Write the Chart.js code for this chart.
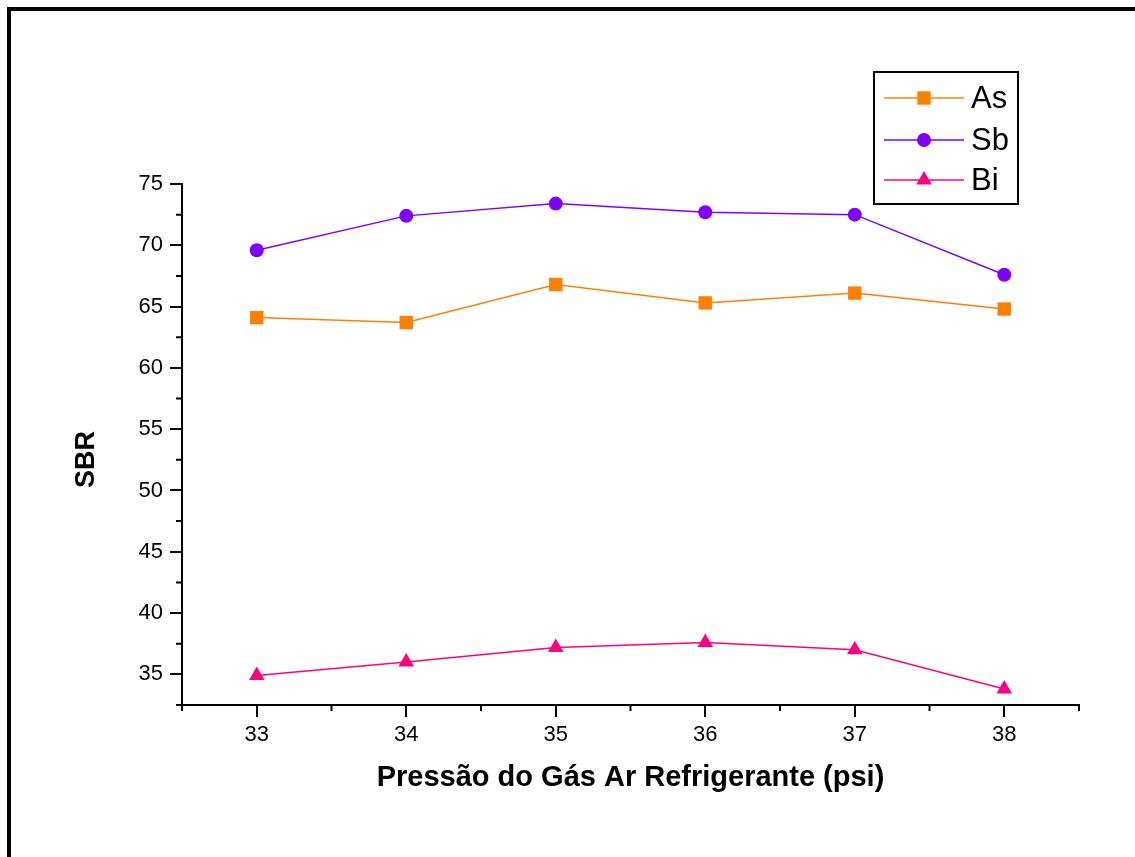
<!DOCTYPE html>
<html>
<head>
<meta charset="utf-8">
<script src="https://cdn.jsdelivr.net/npm/chart.js@4/dist/chart.umd.min.js"></script>
<style>
  html, body { margin: 0; padding: 0; background: #fff; overflow: hidden; }
  canvas { display: block; }
</style>
</head>
<body>
<canvas id="c" width="1135" height="857"></canvas>
<script>
// ---- data ----
const pressures = [33, 34, 35, 36, 37, 38];
const asValues = [64.1, 63.7, 66.8, 65.3, 66.1, 64.8];
const sbValues = [69.6, 72.4, 73.4, 72.7, 72.5, 67.6];
const biValues = [34.9, 36.0, 37.2, 37.6, 37.0, 33.8];
const seriesNames = ['As', 'Sb', 'Bi'];
const xTickValues = [33, 34, 35, 36, 37, 38];
const xMinorTicks = [32.5, 33.5, 34.5, 35.5, 36.5, 37.5, 38.5];
const yTickValues = [35, 40, 45, 50, 55, 60, 65, 70, 75];
const yMinorTicks = [32.5, 37.5, 42.5, 47.5, 52.5, 57.5, 62.5, 67.5, 72.5];
const xTitle = 'Pressão do Gás Ar Refrigerante (psi)';
const yTitle = 'SBR';

const FONT = '"Liberation Sans", Arial, sans-serif';
const colors = ['#FF8000', '#8000FF', '#FF0080'];
const styles = ['rect', 'circle', 'triangle'];
const radii = [9.5, 7, 9];

function toPoints(vals) { return pressures.map((p, i) => ({ x: p, y: vals[i] })); }
const allValues = [asValues, sbValues, biValues];

const datasets = seriesNames.map((name, i) => ({
  label: name,
  data: toPoints(allValues[i]),
  borderColor: colors[i],
  backgroundColor: colors[i],
  borderWidth: 1.5,
  pointStyle: styles[i],
  pointRadius: radii[i],
  pointBorderWidth: 0,
  pointBackgroundColor: colors[i],
  tension: 0,
  clip: false
}));

const framePlugin = {
  id: 'frame',
  beforeDraw(chart) {
    const ctx = chart.ctx;
    ctx.save();
    ctx.fillStyle = '#fff';
    ctx.fillRect(0, 0, chart.width, chart.height);
    ctx.strokeStyle = '#000';
    ctx.lineWidth = 4;
    ctx.strokeRect(9, 9, 1400, 1200);
    ctx.restore();
  }
};

const minorTicksPlugin = {
  id: 'minorTicks',
  afterDraw(chart) {
    const ctx = chart.ctx;
    const xs = chart.scales.x, ys = chart.scales.y;
    ctx.save();
    ctx.strokeStyle = '#000';
    ctx.lineWidth = 2;
    ctx.beginPath();
    xMinorTicks.forEach(v => {
      const px = xs.getPixelForValue(v);
      ctx.moveTo(px, xs.top);
      ctx.lineTo(px, xs.top + 6);
    });
    yMinorTicks.forEach(v => {
      const py = ys.getPixelForValue(v);
      ctx.moveTo(ys.right, py);
      ctx.lineTo(ys.right - 6, py);
    });
    ctx.stroke();
    ctx.restore();
  }
};

function drawMarker(ctx, style, r, x, y, color) {
  ctx.fillStyle = color;
  ctx.beginPath();
  if (style === 'rect') {
    const s = Math.SQRT1_2 * r;
    ctx.rect(x - s, y - s, 2 * s, 2 * s);
  } else if (style === 'circle') {
    ctx.arc(x, y, r, 0, Math.PI * 2);
  } else {
    ctx.moveTo(x, y - r);
    ctx.lineTo(x + r * Math.sin(Math.PI / 3), y + r * 0.5);
    ctx.lineTo(x - r * Math.sin(Math.PI / 3), y + r * 0.5);
    ctx.closePath();
  }
  ctx.fill();
}

const legendPlugin = {
  id: 'boxLegend',
  afterDraw(chart) {
    const ctx = chart.ctx;
    ctx.save();
    ctx.strokeStyle = '#000';
    ctx.lineWidth = 2;
    ctx.strokeRect(874, 72, 144, 132);
    const rows = [98, 140, 180];
    chart.data.datasets.forEach((ds, i) => {
      const y = rows[i];
      ctx.strokeStyle = ds.borderColor;
      ctx.lineWidth = 1.5;
      ctx.beginPath();
      ctx.moveTo(884, y); ctx.lineTo(964, y);
      ctx.stroke();
      drawMarker(ctx, ds.pointStyle, ds.pointRadius, 924, y, ds.pointBackgroundColor);
      ctx.fillStyle = '#000';
      ctx.font = '31px ' + FONT;
      ctx.textBaseline = 'middle';
      ctx.textAlign = 'left';
      ctx.fillText(ds.label, 971, y + 1);
    });
    ctx.restore();
  }
};

new Chart(document.getElementById('c'), {
  type: 'line',
  data: { datasets },
  plugins: [framePlugin, minorTicksPlugin, legendPlugin],
  options: {
    responsive: false,
    animation: false,
    devicePixelRatio: 1,
    layout: { padding: { left: 0, top: 184, right: 56, bottom: 0 } },
    plugins: { legend: { display: false }, tooltip: { enabled: false } },
    scales: {
      x: {
        type: 'linear',
        min: 32.5, max: 38.5,
        afterBuildTicks: s => { s.ticks = xTickValues.map(v => ({ value: v })); },
        afterFit: s => { s.height = 152; },
        grid: { drawOnChartArea: false, drawTicks: true, tickLength: 12, color: '#000', lineWidth: 2, tickWidth: 2 },
        border: { display: true, color: '#000', width: 2 },
        ticks: { color: '#000', font: { family: FONT, size: 22 }, padding: 5, maxRotation: 0, autoSkip: false },
        title: { display: true, text: xTitle, color: '#000', font: { family: FONT, size: 29, weight: 'bold' }, padding: { top: 0, bottom: 62 } }
      },
      y: {
        type: 'linear',
        min: 32.5, max: 75,
        afterBuildTicks: s => { s.ticks = yTickValues.map(v => ({ value: v })); },
        afterFit: s => { s.width = 182; },
        grid: { drawOnChartArea: false, drawTicks: true, tickLength: 12, color: '#000', lineWidth: 2, tickWidth: 2 },
        border: { display: true, color: '#000', width: 2 },
        ticks: { color: '#000', font: { family: FONT, size: 22 }, padding: 7, autoSkip: false },
        title: { display: true, text: yTitle + '    ', color: '#000', font: { family: FONT, size: 27, weight: 'bold' }, padding: { top: 70, bottom: 0 } }
      }
    }
  }
});
</script>
</body>
</html>
